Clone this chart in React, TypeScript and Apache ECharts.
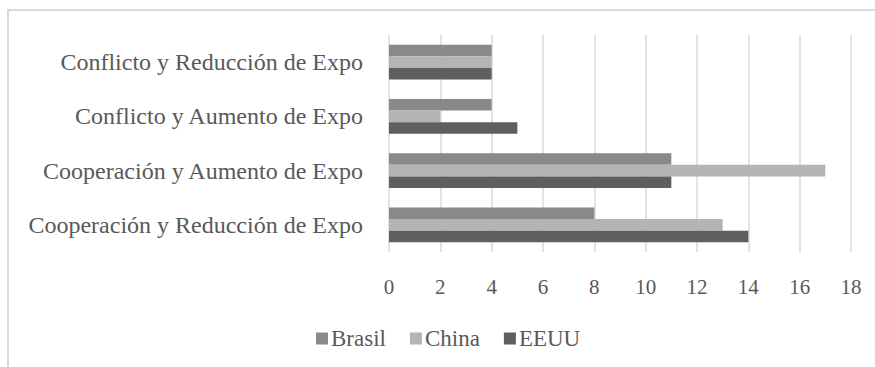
import React, { useEffect, useRef } from "react";
import * as echarts from "echarts";

const categories = [
  "Cooperación y Reducción de Expo",
  "Cooperación y Aumento de Expo",
  "Conflicto y Aumento de Expo",
  "Conflicto y Reducción de Expo",
];
const brasil = [8, 11, 4, 4];
const china = [13, 17, 2, 4];
const eeuu = [14, 11, 5, 4];
const xTicks = { min: 0, max: 18, interval: 2 };

const FONT = "Liberation Serif";
const TEXT = "#595959";

export default function App() {
  const ref = useRef<HTMLDivElement>(null);
  useEffect(() => {
    if (!ref.current) return;
    const chart = echarts.init(ref.current, undefined, { renderer: "svg" });
    chart.setOption({
      animation: false,
      backgroundColor: "#ffffff",
      textStyle: { fontFamily: FONT },
      graphic: [
        {
          type: "rect",
          shape: { x: 8, y: 10, width: 900, height: 400 },
          style: { fill: "none", stroke: "#d9d9d9", lineWidth: 2 },
          silent: true,
        },
      ],
      legend: {
        data: ["Brasil", "China", "EEUU"],
        left: 311,
        top: 322,
        itemWidth: 12,
        itemHeight: 12,
        itemGap: 24,
        icon: "rect",
        textStyle: { fontFamily: FONT, fontSize: 23, color: TEXT, padding: [0, 0, 0, -2] },
      },
      grid: { left: 389, right: 24, top: 35, bottom: 115, containLabel: false },
      xAxis: {
        type: "value",
        min: xTicks.min,
        max: xTicks.max,
        interval: xTicks.interval,
        axisLine: { show: false },
        axisTick: { show: false },
        splitLine: { show: true, lineStyle: { color: "#d9d9d9", width: 1.5 } },
        axisLabel: { margin: 24, fontFamily: FONT, fontSize: 21, color: TEXT },
      },
      yAxis: {
        type: "category",
        data: categories,
        axisLine: { show: false },
        axisTick: { show: false },
        splitLine: { show: false },
        axisLabel: { margin: 26, fontFamily: FONT, fontSize: 24, color: TEXT },
      },
      series: [
        { name: "Brasil", type: "bar", data: brasil, itemStyle: { color: "#898989" }, barGap: "0%", barCategoryGap: "36%" },
        { name: "China", type: "bar", data: china, itemStyle: { color: "#b4b4b4" }, barGap: "0%", barCategoryGap: "36%" },
        { name: "EEUU", type: "bar", data: eeuu, itemStyle: { color: "#5f5f5f" }, barGap: "0%", barCategoryGap: "36%" },
      ],
    });
    return () => chart.dispose();
  }, []);
  return (
    <div
      ref={ref}
      style={{ position: "fixed", left: 0, top: 0, width: 875, height: 367 }}
    />
  );
}
